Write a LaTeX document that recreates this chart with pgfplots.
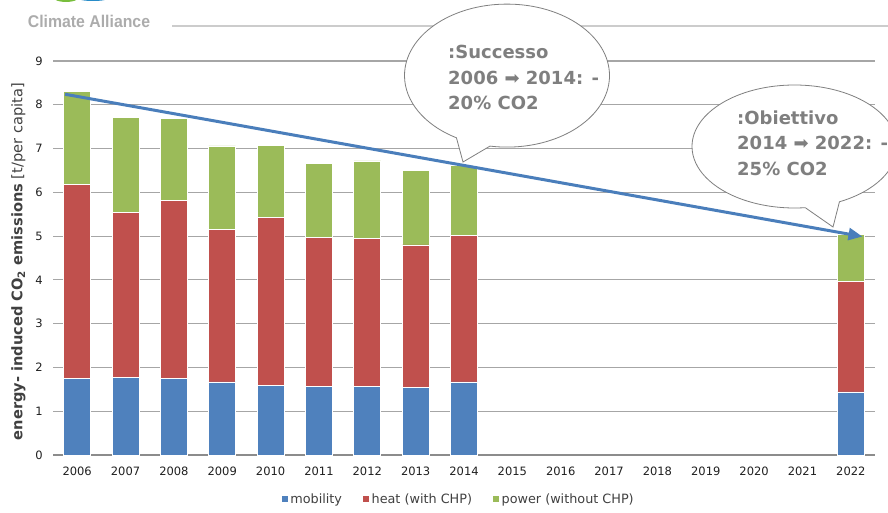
\documentclass[border=0pt]{standalone}
\usepackage{pgfplots}
\pgfplotsset{compat=1.18}
\usepackage{fontspec}
\setmainfont{DejaVu Sans}
\newfontfamily\logofont{Liberation Sans}
\usetikzlibrary{shapes.callouts, arrows.meta}

\definecolor{cmob}{HTML}{4F81BD}
\definecolor{cheat}{HTML}{C0504D}
\definecolor{cpow}{HTML}{9BBB59}
\definecolor{carrow}{HTML}{4A7EBB}
\definecolor{cgrid}{HTML}{A6A6A6}
\definecolor{caxis}{HTML}{8C8C8C}
\definecolor{ctext}{HTML}{404040}
\definecolor{ccall}{HTML}{7F7F7F}
\definecolor{clogog}{HTML}{78BE3C}
\definecolor{clogob}{HTML}{288CC8}

\begin{document}
\begin{tikzpicture}[x=1pt,y=1pt]
\useasboundingbox (0,0) rectangle (888,512);
\clip (0,0) rectangle (888,512);
% logo
\fill[clogog] (66,514) ellipse (12 and 4);
\fill[clogob] (93,514) ellipse (16 and 3);
\node[anchor=base, text=gray!65, font=\logofont\bfseries\fontsize{17}{17}\selectfont, xscale=0.93, inner sep=0pt] at (89,484) {Climate Alliance};
\draw[color=gray!40, line width=1.5pt] (172,486) -- (888,486);

\begin{axis}[
  at={(53pt,57pt)}, anchor=south west, scale only axis,
  width=822pt, height=394pt,
  xmin=-0.5, xmax=16.5, ymin=0, ymax=9,
  ybar stacked, bar width=27pt,
  axis x line*=bottom, axis y line*=left,
  x axis line style={draw=caxis, line width=1.5pt, -},
  y axis line style={draw=none},
  major tick length=0pt,
  xtick={0,...,16},
  xticklabels={2006,2007,2008,2009,2010,2011,2012,2013,2014,2015,2016,2017,2018,2019,2020,2021,2022},
  ytick={0,...,9},
  ymajorgrids,
  grid style={draw=cgrid, line width=1.1pt},
  /pgf/number format/assume math mode=true,
  tick label style={font=\fontsize{11.5}{13}\selectfont, text=black!88, inner sep=0pt},
  yticklabel style={anchor=east, xshift=-10pt},
  xticklabel style={anchor=north, yshift=-12pt},
  legend style={draw=none, fill=none, at={(0.493,-0.112)}, anchor=center,
    font=\fontsize{12.8}{14}\selectfont, text=ctext,
    legend columns=3,
    /tikz/every even column/.append style={column sep=18pt}},
  legend image code/.code={\fill[#1] (0pt,-3.5pt) rectangle (7pt,3.5pt);},
]
\addplot[fill=cmob, draw=white, line width=0.6pt] coordinates {(0,1.75) (1,1.78) (2,1.75) (3,1.67) (4,1.59) (5,1.57) (6,1.57) (7,1.54) (8,1.67) (16,1.44)};
\addplot[fill=cheat, draw=white, line width=0.6pt] coordinates {(0,4.44) (1,3.76) (2,4.06) (3,3.49) (4,3.84) (5,3.40) (6,3.37) (7,3.26) (8,3.34) (16,2.53)};
\addplot[fill=cpow, draw=white, line width=0.6pt] coordinates {(0,2.11) (1,2.18) (2,1.87) (3,1.90) (4,1.65) (5,1.70) (6,1.78) (7,1.71) (8,1.61) (16,1.07)};
\legend{mobility, heat (with CHP), power (without CHP)}
\end{axis}

\begin{axis}[
  at={(53pt,57pt)}, anchor=south west, scale only axis,
  width=822pt, height=394pt,
  xmin=-0.5, xmax=16.5, ymin=0, ymax=9,
  hide axis, clip=false,
]
\addplot[carrow, line width=3pt, -{Triangle[length=14pt,width=12pt]}] coordinates {(-0.25,8.24) (16.24,4.99)};
\end{axis}

% callouts
\node[ellipse callout, draw=ccall, fill=white, line width=0.8pt, minimum width=205pt, minimum height=143pt, inner sep=0pt, callout absolute pointer={(463,350)}, callout pointer arc=20] at (507,436.4) {};
\node[ellipse callout, draw=ccall, fill=white, line width=0.8pt, minimum width=205pt, minimum height=123pt, inner sep=0pt, callout absolute pointer={(833,285)}, callout pointer arc=20] at (794.5,365.5) {};

\node[anchor=west, align=left, inner sep=0pt, text=ccall, font=\bfseries\fontsize{18}{25.5}\selectfont] at (448,434.3) {:Successo\\2006 \textmd{➡} 2014: -\\20\% CO2};
\node[anchor=west, align=left, inner sep=0pt, text=ccall, font=\bfseries\fontsize{18}{25.5}\selectfont] at (737,369) {:Obiettivo\\2014 \textmd{➡} 2022: -\\25\% CO2};

\node[rotate=90, text=ctext, font=\fontsize{14.6}{16}\selectfont, inner sep=0pt] at (18.5,250.3) {\textbf{energy- induced CO\textsubscript{2} emissions} [t/per capita]};
\end{tikzpicture}
\end{document}
